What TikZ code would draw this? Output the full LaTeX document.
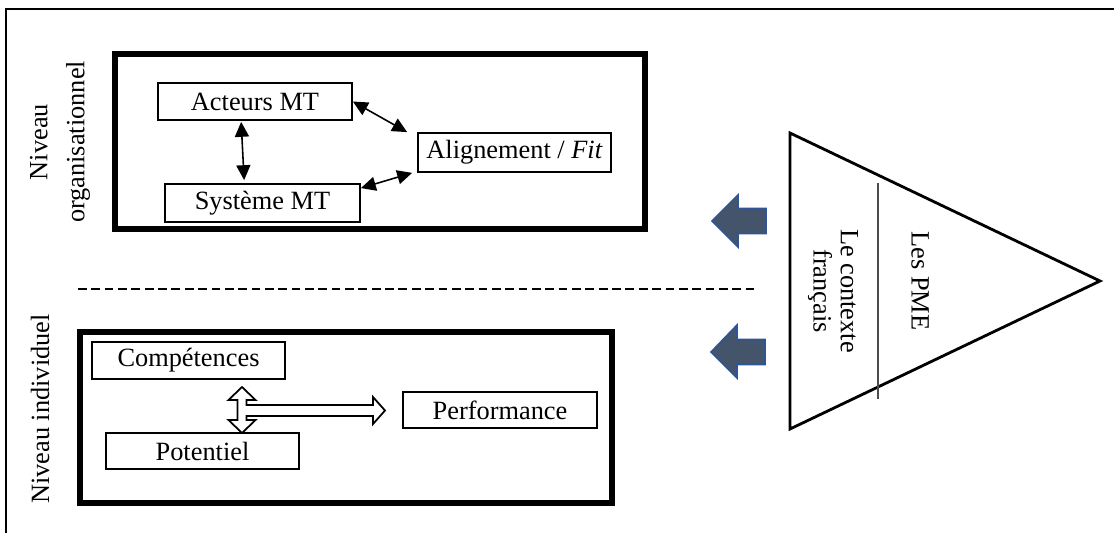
\documentclass[tikz,border=0pt]{standalone}
\usepackage{fontspec}
\setmainfont{Liberation Serif}
\usetikzlibrary{arrows.meta,calc}
\definecolor{slatefill}{HTML}{44546A}
\definecolor{slateedge}{HTML}{2F5597}
\tikzset{
  box/.style={draw=black, line width=1pt, inner sep=0pt, font=\fontsize{15}{18}\selectfont},
  bigbox/.style={draw=black, line width=3pt},
  conn/.style={line width=0.9pt, {Triangle[length=8.5pt,width=8pt]}-{Triangle[length=8.5pt,width=8pt]}},
  hollow/.style={draw=black, line width=1pt, fill=white, line join=miter},
  blockarrow/.style={fill=slatefill, draw=slateedge, line width=0.9pt},
  vlabel/.style={font=\fontsize{15}{21}\selectfont, align=center, inner sep=0pt},
}
\begin{document}
\begin{tikzpicture}[x=0.02cm, y=-0.02cm]
\useasboundingbox (0,0) rectangle (1114,533);
% outer frame (top and left only)
\draw[line width=1.2pt] (1114,9) -- (6,9) -- (6,533);
% big boxes
\draw[bigbox] (115,54) rectangle (645,229);
\draw[bigbox] (80,332) rectangle (612,503);
% side labels
\node[vlabel, rotate=90] (orglab) at (60,142) {Niveau\\organisationnel};
\node[vlabel, rotate=90] (indlab) at (40,409) {Niveau individuel};
% organisational level
\node[box, minimum width=3.88cm, minimum height=0.74cm] (acteurs) at (255,101.5) {Acteurs MT};
\node[box, minimum width=3.9cm, minimum height=0.76cm] (systeme) at (262.5,203) {Système MT};
\node[box, minimum width=3.86cm, minimum height=0.78cm] (align) at (514.5,152.5) {Alignement / \textit{Fit}};
\draw[conn] ($(acteurs.south west)+(84,1)$) -- ($(systeme.north west)+(80,-3)$);
\draw[conn] (acteurs.east) -- ($(align.north west)+(-10,0)$);
\draw[conn] ($(systeme.north east)+(0,5)$) -- ($(align.south west)+(-5,0)$);
% dashed separator
\draw[dashed, dash pattern=on 5pt off 2.6pt, line width=1.2pt] (78,289) -- (757,289);
% individual level
\node[box, minimum width=3.86cm, minimum height=0.74cm] (comp) at (188.5,360.5) {Compétences};
\node[box, minimum width=3.86cm, minimum height=0.72cm] (pot) at (202.5,451) {Potentiel};
\node[box, minimum width=3.88cm, minimum height=0.72cm] (perf) at (500,410) {Performance};
\draw[hollow] (242,387) -- (255.5,400) -- (246.5,400) -- (246.5,405) -- (373,405) -- (373,397)
  -- (385,410.5) -- (373,424) -- (373,416) -- (246.5,416) -- (246.5,420) -- (255.5,420)
  -- (242,433) -- (228.5,420) -- (237.5,420) -- (237.5,400) -- (228.5,400) -- cycle;
% block arrows
\draw[blockarrow] (712,221) -- (738,195) -- (738,208.5) -- (766,208.5) -- (766,233.5) -- (738,233.5) -- (738,247) -- cycle;
\draw[blockarrow] (711,352) -- (737,325) -- (737,339.5) -- (765,339.5) -- (765,364.5) -- (737,364.5) -- (737,378) -- cycle;
% triangle
\draw[line width=1.6pt, line join=miter] (790,133) -- (1100,281) -- (790,429) -- cycle;
\draw[line width=0.9pt, draw=black!70] (878,183) -- (878,399);
\node[vlabel, rotate=-90] (pme) at (920,281) {Les PME};
\node[vlabel, rotate=-90, font=\fontsize{15}{15.5}\selectfont] (contexte) at (833,291) {Le contexte\\français};
\end{tikzpicture}
\end{document}
